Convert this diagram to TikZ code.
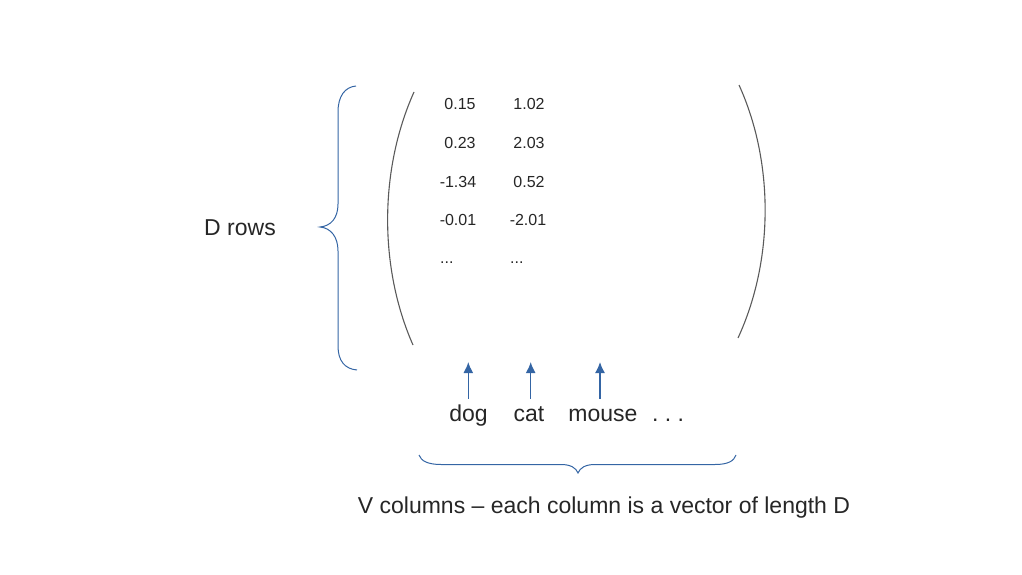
\documentclass[tikz,border=0pt]{standalone}
\usepackage{fontspec}
\setmainfont{Liberation Sans}
\usetikzlibrary{arrows.meta}

\definecolor{braceblue}{HTML}{3465A4}
\definecolor{textgray}{HTML}{262626}
\definecolor{parengray}{HTML}{5A5A5A}

\begin{document}
\begin{tikzpicture}[x=1pt, y=-1pt, >={Latex[length=11pt,width=10pt]}]
  \tikzstyle{entry} = [text=textgray, inner sep=0pt, font=\fontsize{16}{18}\selectfont]
  \tikzstyle{word} = [text=textgray, inner sep=0pt, anchor=base, font=\fontsize{23}{27}\selectfont]
  \tikzstyle{brace} = [draw=braceblue, line width=1pt]
  \tikzstyle{paren} = [draw=parengray, line width=1.1pt]
  \tikzstyle{pointer} = [draw=braceblue, fill=braceblue, line width=1.5pt, ->]
  \useasboundingbox (0,0) rectangle (1022,575);

  % matrix entries
  \node [entry] (a11) at (460,103.5) {0.15};
  \node [entry] (a12) at (529,103.5) {1.02};
  \node [entry] (a21) at (460,142.5) {0.23};
  \node [entry] (a22) at (529,142.5) {2.03};
  \node [entry] (a31) at (458,181.5) {-1.34};
  \node [entry] (a32) at (529,181.5) {0.52};
  \node [entry] (a41) at (458,219.5) {-0.01};
  \node [entry] (a42) at (528,219.5) {-2.01};
  \node [entry, anchor=base west] (a51) at (440,263) {...};
  \node [entry, anchor=base west] (a52) at (510,263) {...};

  % brackets
  \draw [paren] (414,92) .. controls (379,170) and (379,268) .. (413,345);
  \draw [paren] (739,85) .. controls (774,162) and (774,260) .. (738,338);

  % left brace and label
  \draw [brace] (356,86) .. controls (345,87) and (338,96) .. (338,112) -- (338,204)
    .. controls (338,218) and (331,226) .. (320,227)
    .. controls (331,228) and (338,237) .. (338,251) -- (338,346)
    .. controls (338,361) and (345,369) .. (357,370);
  \node [word] (rows) at (240,235) {D rows};

  % column words
  \node [word] (dog) at (468.5,421.5) {dog};
  \node [word] (cat) at (529,421.5) {cat};
  \node [word] (mouse) at (603,421.5) {mouse};
  \node [word] (more) at (668,421.5) {.\ .\ .};

  \coordinate (dogtip) at (468.3,362);
  \coordinate (cattip) at (530.7,362);
  \coordinate (mousetip) at (600,362);
  \draw [pointer] ([yshift=6pt]dog.north -| dogtip) -- (dogtip);
  \draw [pointer] ([yshift=6pt]dog.north -| cattip) -- (cattip);
  \draw [pointer] ([yshift=6pt]dog.north -| mousetip) -- (mousetip);

  % bottom brace and caption
  \draw [brace] (419,455) .. controls (421,461) and (428,464.5) .. (441,464.5) -- (561,464.5)
    .. controls (571,464.5) and (576,468) .. (578,473)
    .. controls (580,468) and (585,464.5) .. (595,464.5) -- (715,464.5)
    .. controls (728,464.5) and (734,461) .. (736,455);
  \node [word] (caption) at (604,513) {V columns – each column is a vector of length D};
\end{tikzpicture}
\end{document}
